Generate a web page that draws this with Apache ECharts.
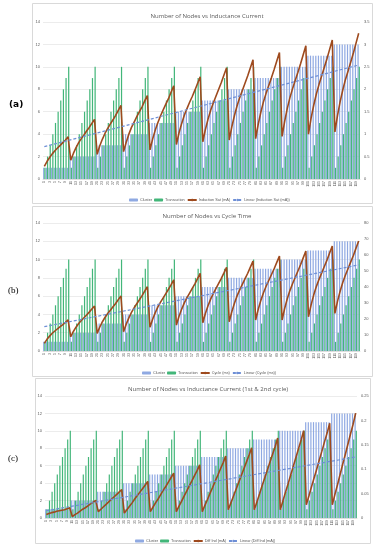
<!DOCTYPE html>
<html><head><meta charset="utf-8">
<script src="https://cdn.jsdelivr.net/npm/echarts@6/dist/echarts.min.js"></script>
<style>html,body{margin:0;padding:0;background:#fff;}#c{width:377px;height:550px;}</style>
</head><body><div id="c"></div><script>
// ---- data ----
const categories = Array.from({length: 120}, (_, i) => String(i + 1));

const cluster = [
1,1,1,1,1,1,1,1,1,1,
2,2,2,2,2,2,2,2,2,2,
3,3,3,3,3,3,3,3,3,3,
4,4,4,4,4,4,4,4,4,4,
5,5,5,5,5,5,5,5,5,5,
6,6,6,6,6,6,6,6,6,6,
7,7,7,7,7,7,7,7,7,7,
8,8,8,8,8,8,8,8,8,8,
9,9,9,9,9,9,9,9,9,9,
10,10,10,10,10,10,10,10,10,10,
11,11,11,11,11,11,11,11,11,11,
12,12,12,12,12,12,12,12,12,12
];

const transaction = [
1,2,3,4,5,6,7,8,9,10,
1,2,3,4,5,6,7,8,9,10,
1,2,3,4,5,6,7,8,9,10,
1,2,3,4,5,6,7,8,9,10,
1,2,3,4,5,6,7,8,9,10,
1,2,3,4,5,6,7,8,9,10,
1,2,3,4,5,6,7,8,9,10,
1,2,3,4,5,6,7,8,9,10,
1,2,3,4,5,6,7,8,9,10,
1,2,3,4,5,6,7,8,9,10,
1,2,3,4,5,6,7,8,9,10,
1,2,3,4,5,6,7,8,9,10
];

// (a) Induction Sat (mA)
const inductionSat = [
0.28,0.39,0.48,0.56,0.63,0.69,0.75,0.81,0.87,0.94,
0.42,0.57,0.70,0.81,0.90,0.98,1.07,1.15,1.24,1.33,
0.55,0.74,0.89,1.02,1.13,1.23,1.32,1.42,1.53,1.64,
0.61,0.82,1.00,1.15,1.27,1.39,1.50,1.61,1.74,1.86,
0.65,0.89,1.09,1.26,1.41,1.54,1.67,1.79,1.94,2.08,
0.77,1.03,1.24,1.42,1.57,1.71,1.84,1.98,2.13,2.28,
0.83,1.11,1.34,1.54,1.70,1.85,2.00,2.15,2.32,2.48,
0.87,1.17,1.42,1.64,1.82,1.98,2.14,2.30,2.48,2.66,
0.90,1.23,1.50,1.73,1.92,2.09,2.26,2.44,2.63,2.82,
0.95,1.29,1.58,1.82,2.02,2.20,2.38,2.57,2.77,2.97,
1.00,1.36,1.65,1.90,2.11,2.30,2.49,2.68,2.89,3.10,
1.05,1.42,1.73,1.99,2.22,2.41,2.61,2.81,3.03,3.25
];
const inductionTrend = [0.72, 2.54];   // start / end of linear trendline

// (b) Cycle (ms)
const cycleMs = [
4.8,7.3,9.3,11.1,12.5,13.9,15.2,16.5,17.9,19.4,
8.9,12.2,14.9,17.2,19.1,20.8,22.5,24.3,26.2,28.1,
11.0,15.0,18.3,21.1,23.4,25.5,27.6,29.7,32.1,34.4,
12.0,16.8,20.7,24.1,27.0,29.5,32.0,34.6,37.4,40.2,
14.8,19.8,24.0,27.6,30.5,33.2,35.9,38.6,41.5,44.5,
16.2,21.7,26.2,30.1,33.3,36.2,39.1,42.0,45.3,48.5,
17.7,23.6,28.4,32.6,36.0,39.2,42.3,45.4,48.8,52.3,
18.3,24.7,30.0,34.6,38.4,41.8,45.2,48.6,52.4,56.2,
19.4,26.2,31.8,36.6,40.6,44.2,47.8,51.4,55.4,59.4,
19.4,26.7,32.8,37.9,42.2,46.1,50.0,53.9,58.2,62.5,
21.4,28.9,35.1,40.4,44.8,48.8,52.8,56.8,61.2,65.6,
23.5,31.2,37.5,43.0,47.5,51.6,55.7,59.7,64.3,68.8
];
const cycleTrend = [15.2, 53.8];

// (c) Diff Ind (mA)
const diffInd = [
0.007,0.009,0.011,0.012,0.014,0.015,0.016,0.017,0.019,0.021,
0.003,0.007,0.010,0.014,0.018,0.021,0.025,0.029,0.032,0.036,
0.013,0.018,0.023,0.028,0.033,0.038,0.043,0.048,0.053,0.058,
0.010,0.017,0.024,0.031,0.039,0.046,0.053,0.060,0.067,0.075,
0.013,0.022,0.031,0.039,0.048,0.057,0.065,0.074,0.083,0.092,
0.013,0.024,0.034,0.045,0.055,0.066,0.076,0.087,0.097,0.109,
0.013,0.026,0.038,0.051,0.063,0.076,0.088,0.101,0.113,0.127,
0.017,0.031,0.045,0.059,0.073,0.087,0.101,0.115,0.129,0.144,
0.017,0.033,0.049,0.066,0.082,0.098,0.114,0.130,0.146,0.164,
0.017,0.035,0.053,0.070,0.088,0.106,0.124,0.142,0.160,0.179,
0.027,0.045,0.064,0.082,0.100,0.119,0.137,0.156,0.174,0.194,
0.027,0.048,0.068,0.089,0.110,0.130,0.151,0.172,0.192,0.215
];
const diffTrend = [0.015, 0.125];

const leftTicks = {min: 0, max: 14, interval: 2};

// ---- styles ----
const C_CLUSTER = '#8FA9E2';
const C_TRANS = '#42B679';
const C_LINE = '#9E4A1E';
const C_TREND = '#6E8FD6';
const TXT = '#595959';

const panels = [
  {title: 'Number of Nodes vs Inductance Current', titleX: 202, titleY: 8,
   grid: {left: 43, right: 17, top: 22, height: 157},
   rmax: 3.5, rint: 0.5, lineName: 'Induction Sat (mA)', line: inductionSat, trend: inductionTrend,
   legendX: 124, legendY: 193},
  {title: 'Number of Nodes vs Cycle Time', titleX: 202, titleY: 208,
   grid: {left: 43, right: 17, top: 223, height: 128},
   rmax: 80, rint: 10, lineName: 'Cycle (ms)', line: cycleMs, trend: cycleTrend,
   legendX: 137, legendY: 366},
  {title: 'Number of Nodes vs Inductance Current (1st & 2nd cycle)', titleX: 203, titleY: 381,
   grid: {left: 45, right: 20, top: 396, height: 122},
   rmax: 0.25, rint: 0.05, lineName: 'Diff Ind (mA)', line: diffInd, trend: diffTrend,
   legendX: 130, legendY: 534}
];

const option = {
  animation: false,
  backgroundColor: '#fff',
  title: [], grid: [], xAxis: [], yAxis: [], series: [], legend: [],
  graphic: []
};

const boxes = [[32, 3, 340, 200], [32, 206, 340, 170], [35, 378, 335, 165]];
boxes.forEach(b => option.graphic.push({type: 'rect', shape: {x: b[0] + 0.5, y: b[1] + 0.5, width: b[2], height: b[3]},
  style: {fill: 'none', stroke: '#d9d9d9', lineWidth: 1}, z: -10}));
option.graphic.push({type: 'text', left: 9, top: 100, style: {text: '(a)', font: 'bold 9px "DejaVu Sans", sans-serif', fill: '#000'}});
option.graphic.push({type: 'text', left: 8, top: 286, style: {text: '(b)', font: '9px "Liberation Serif", serif', fill: '#000'}});
option.graphic.push({type: 'text', left: 8, top: 454, style: {text: '(c)', font: '9px "Liberation Serif", serif', fill: '#000'}});

panels.forEach((p, i) => {
  option.title.push({text: p.title, left: p.titleX, top: p.titleY, textAlign: 'center',
    textStyle: {fontSize: 6, fontWeight: 'normal', color: TXT, fontFamily: 'Open Sans, sans-serif'}});
  option.grid.push(Object.assign({}, p.grid));
  option.xAxis.push({type: 'category', gridIndex: i, data: categories,
    axisTick: {show: false}, axisLine: {lineStyle: {color: '#d9d9d9', width: 0.8}},
    axisLabel: {interval: 1, rotate: 90, fontSize: 3.5, color: TXT, margin: 2}});
  option.yAxis.push({type: 'value', gridIndex: i, min: leftTicks.min, max: leftTicks.max, interval: leftTicks.interval,
    axisLine: {show: false}, axisTick: {show: false},
    axisLabel: {fontSize: 4, color: TXT, margin: 3},
    splitLine: {lineStyle: {color: '#e4e4e4', width: 0.7}}});
  option.yAxis.push({type: 'value', gridIndex: i, position: 'right', min: 0, max: p.rmax, interval: p.rint,
    axisLine: {show: false}, axisTick: {show: false},
    axisLabel: {fontSize: 4, color: TXT, margin: 4},
    splitLine: {show: false}});
  const trendName = 'Linear (' + p.lineName + ')';
  const trendData = categories.map(() => null);
  trendData[0] = p.trend[0];
  trendData[categories.length - 1] = p.trend[1];
  option.series.push({name: 'Cluster', type: 'bar', xAxisIndex: i, yAxisIndex: 2 * i, data: cluster,
    itemStyle: {color: C_CLUSTER}, barGap: '0%', barCategoryGap: '8%'});
  option.series.push({name: 'Transaction', type: 'bar', xAxisIndex: i, yAxisIndex: 2 * i, data: transaction,
    itemStyle: {color: C_TRANS}, barGap: '0%', barCategoryGap: '8%'});
  option.series.push({name: p.lineName, type: 'line', xAxisIndex: i, yAxisIndex: 2 * i + 1, data: p.line,
    symbol: 'none', lineStyle: {color: C_LINE, width: 1.6}, itemStyle: {color: C_LINE}, z: 5});
  option.series.push({name: trendName, type: 'line', xAxisIndex: i, yAxisIndex: 2 * i + 1, data: trendData,
    connectNulls: true, symbol: 'none', lineStyle: {color: C_TREND, width: 1.2, type: [3, 2]},
    itemStyle: {color: C_TREND}, z: 6});
  option.legend.push({left: p.legendX, top: p.legendY, itemWidth: 9, itemHeight: 3, itemGap: 2,
    textStyle: {fontSize: 3.8, color: TXT, padding: [0, 0, 0, -3]},
    data: ['Cluster', 'Transaction', p.lineName, trendName]});
});

const chart = echarts.init(document.getElementById('c'), null, {renderer: 'canvas'});
chart.setOption(option);
</script></body></html>
